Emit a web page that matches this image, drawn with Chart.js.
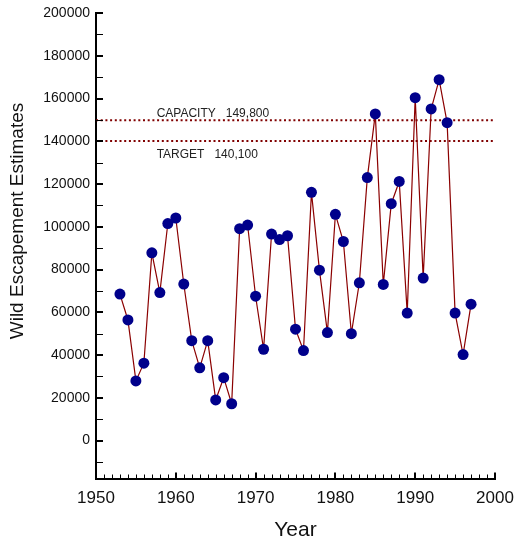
<!DOCTYPE html>
<html>
<head>
<meta charset="utf-8">
<script src="https://cdn.jsdelivr.net/npm/chart.js@4.4.0/dist/chart.umd.min.js"></script>
<style>
  body { margin: 0; background: #fff; }
  #wrap { width: 516px; height: 546px; }
</style>
</head>
<body>
<div id="wrap"><canvas id="chart" width="516" height="546"></canvas></div>
<script>
// data
const years = [1953, 1954, 1955, 1956, 1957, 1958, 1959, 1960, 1961, 1962,
    1963, 1964, 1965, 1966, 1967, 1968, 1969, 1970, 1971, 1972,
    1973, 1974, 1975, 1976, 1977, 1978, 1979, 1980, 1981, 1982,
    1983, 1984, 1985, 1986, 1987, 1988, 1989, 1990, 1991, 1992,
    1993, 1994, 1995, 1996, 1997];
const escapement = [68500, 56400, 27900, 36200, 87800, 69200, 101500, 104100, 73200, 46700,
    34000, 46700, 19000, 29400, 17200, 99100, 100800, 67500, 42700, 96600,
    94000, 95800, 52100, 42100, 116100, 79700, 50500, 105800, 93100, 50000,
    73800, 123000, 152800, 73000, 110800, 121200, 59600, 160400, 76000, 155100,
    168800, 148700, 59600, 40200, 63800];

const capacity = 149800;
const target = 140100;
const refLabels = ['CAPACITY   149,800', 'TARGET   140,100'];

const xLabelYears = [1950, 1960, 1970, 1980, 1990, 2000];
const yLabelValues = [0, 20000, 40000, 60000, 80000, 100000, 120000, 140000, 160000, 180000, 200000];

const FONT = 'Arial, "Liberation Sans", sans-serif';

// every year gets a small tick, every 10000 on y too
const xTickValues = [];
for (let y = 1950; y <= 2000; y++) xTickValues.push(y);
const yTickValues = [];
for (let v = -10000; v <= 200000; v += 10000) yTickValues.push(v);

// inward tick marks, the y title and the reference line labels
const extrasPlugin = {
    id: 'extras',
    afterDraw(chart) {
        const ctx = chart.ctx;
        const xs = chart.scales.x;
        const ys = chart.scales.y;
        const area = chart.chartArea;
        ctx.save();
        ctx.strokeStyle = '#000';

        xTickValues.forEach(v => {
            const major = xLabelYears.includes(v);
            const px = Math.round(xs.getPixelForValue(v)) + (major ? 0 : 0.5);
            ctx.lineWidth = major ? 2 : 1;
            ctx.beginPath();
            ctx.moveTo(px, area.bottom);
            ctx.lineTo(px, area.bottom - (major ? 6.5 : 4.5));
            ctx.stroke();
        });

        yTickValues.forEach(v => {
            const major = yLabelValues.includes(v);
            const py = Math.round(ys.getPixelForValue(v)) + (major ? 0 : 0.5);
            ctx.lineWidth = major ? 2 : 1;
            ctx.beginPath();
            ctx.moveTo(area.left, py);
            ctx.lineTo(area.left + 7, py);
            ctx.stroke();
        });

        // reference line labels
        ctx.fillStyle = '#222';
        ctx.font = '12px ' + FONT;
        ctx.textAlign = 'left';
        ctx.textBaseline = 'alphabetic';
        const lx = xs.getPixelForValue(1957.6);
        ctx.fillText(refLabels[0], lx, ys.getPixelForValue(capacity) - 3.5);
        ctx.fillText(refLabels[1], lx, ys.getPixelForValue(target) + 17);

        // y axis title
        ctx.font = '19px ' + FONT;
        ctx.fillStyle = '#111';
        ctx.translate(18, 221);
        ctx.rotate(-Math.PI / 2);
        ctx.textAlign = 'center';
        ctx.textBaseline = 'middle';
        ctx.fillText('Wild Escapement Estimates', 0, 0);
        ctx.restore();
    }
};

const ctx = document.getElementById('chart').getContext('2d');
new Chart(ctx, {
    type: 'line',
    data: {
        datasets: [{
            label: 'Wild escapement',
            data: years.map((y, i) => ({ x: y, y: escapement[i] })),
            borderColor: '#8b0000',
            borderWidth: 1.2,
            pointRadius: 5.5,
            pointBackgroundColor: '#00008b',
            pointBorderColor: '#00008b',
            pointBorderWidth: 0,
            tension: 0,
            order: 0
        }, {
            label: 'Capacity',
            data: [{ x: 1950, y: capacity }, { x: 2000, y: capacity }],
            borderColor: '#800000',
            borderWidth: 2,
            borderDash: [2, 2.7],
            pointRadius: 0,
            order: 1
        }, {
            label: 'Target',
            data: [{ x: 1950, y: target }, { x: 2000, y: target }],
            borderColor: '#800000',
            borderWidth: 2,
            borderDash: [2, 2.7],
            pointRadius: 0,
            order: 1
        }]
    },
    options: {
        responsive: false,
        animation: false,
        layout: {
            padding: { top: 13, right: 21, bottom: 0, left: 0 }
        },
        scales: {
            x: {
                type: 'linear',
                min: 1950,
                max: 2000,
                afterBuildTicks: scale => {
                    scale.ticks = xTickValues.map(v => ({ value: v }));
                },
                afterFit: scale => {
                    scale.height = 67;
                    scale.paddingLeft = 0;
                    scale.paddingRight = 0;
                },
                grid: { display: false, drawTicks: false },
                border: { display: true, color: '#000', width: 2 },
                ticks: {
                    autoSkip: false,
                    maxRotation: 0,
                    padding: 9,
                    color: '#111',
                    font: { family: FONT, size: 17 },
                    callback: v => xLabelYears.includes(v) ? String(v) : ''
                },
                title: {
                    display: true,
                    text: 'Year',
                    color: '#111',
                    font: { family: FONT, size: 21 },
                    padding: { top: 0, bottom: 3 }
                }
            },
            y: {
                type: 'linear',
                min: -18000,
                max: 200000,
                afterBuildTicks: scale => {
                    scale.ticks = yTickValues.map(v => ({ value: v }));
                },
                afterFit: scale => {
                    scale.width = 96;
                    scale.paddingTop = 0;
                    scale.paddingBottom = 0;
                },
                grid: { display: false, drawTicks: false },
                border: { display: true, color: '#000', width: 2 },
                ticks: {
                    autoSkip: false,
                    padding: 6,
                    color: '#111',
                    font: { family: FONT, size: 14 },
                    callback: v => yLabelValues.includes(v) ? String(v) : ''
                }
            }
        },
        plugins: {
            legend: { display: false },
            tooltip: { enabled: false }
        }
    },
    plugins: [extrasPlugin]
});
</script>
</body>
</html>
